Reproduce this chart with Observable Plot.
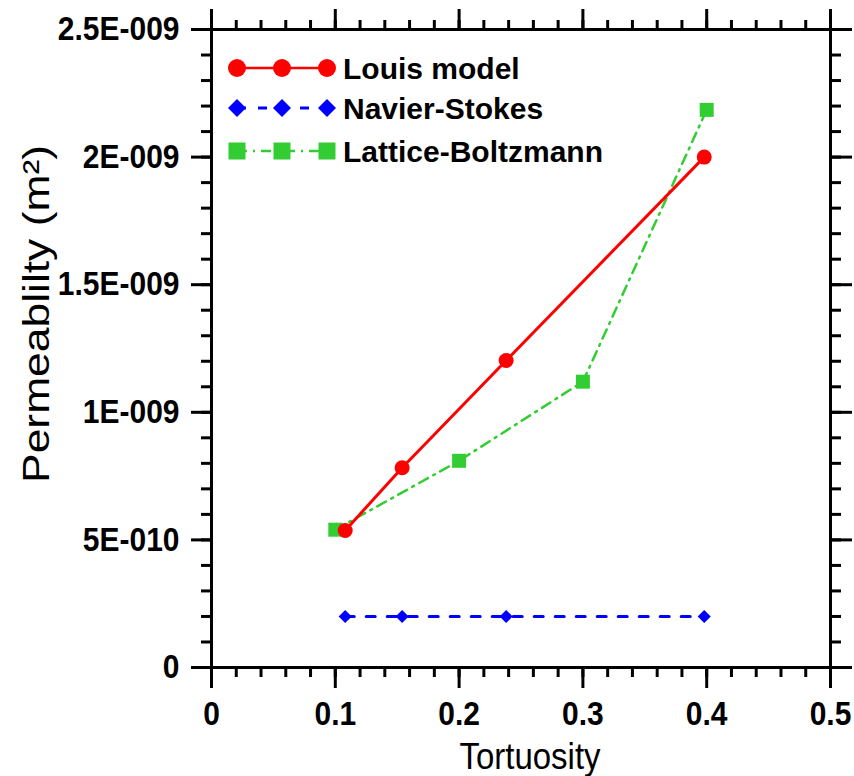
<!DOCTYPE html>
<html>
<head>
<meta charset="utf-8">
<script src="https://cdn.jsdelivr.net/npm/d3@7"></script>
<script src="https://cdn.jsdelivr.net/npm/@observablehq/plot@0.6"></script>
<style>
  html, body { margin: 0; padding: 0; background: #fff; }
  svg { font-family: "Liberation Sans", Arial, sans-serif; }
</style>
</head>
<body>
<div id="chart"></div>
<script>
// ---- data ----
const seriesNames = ["Louis model", "Navier-Stokes", "Lattice-Boltzmann"];
const louisX = [0.108, 0.154, 0.238, 0.398];
const louisY = [0.537e-9, 0.783e-9, 1.203e-9, 2.0e-9];
const nsX = [0.108, 0.154, 0.238, 0.398];
const nsY = [0.2e-9, 0.2e-9, 0.2e-9, 0.2e-9];
const lbX = [0.1, 0.2, 0.3, 0.4];
const lbY = [0.54e-9, 0.81e-9, 1.12e-9, 2.185e-9];

const xTicks = [0, 0.1, 0.2, 0.3, 0.4, 0.5];
const xTickLabels = ["0", "0.1", "0.2", "0.3", "0.4", "0.5"];
const yTicks = [0, 0.5e-9, 1e-9, 1.5e-9, 2e-9, 2.5e-9];
const yTickLabels = ["0", "5E-010", "1E-009", "1.5E-009", "2E-009", "2.5E-009"];
const xMinor = d3.range(0, 0.5001, 0.02);
const yMinor = d3.range(0, 2.5001e-9, 0.1e-9);
const xLabel = "Tortuosity";
const yLabel = "Permeablilty (m²)";

const louis = louisX.map((x, i) => ({x, y: louisY[i]}));
const ns = nsX.map((x, i) => ({x, y: nsY[i]}));
const lb = lbX.map((x, i) => ({x, y: lbY[i]}));

const RED = "#ff0000", BLUE = "#0000ff", GREEN = "#32cd32";
const FONT = 30;

const blank = () => "";
const chart = Plot.plot({
  width: 854,
  height: 776,
  marginLeft: 211,
  marginRight: 24,
  marginTop: 29,
  marginBottom: 109,
  style: {fontFamily: '"Liberation Sans", Arial, sans-serif', background: "white", overflow: "visible"},
  x: {domain: [0, 0.5]},
  y: {domain: [0, 2.5e-9]},
  marks: [
    // minor ticks
    Plot.axisX(xMinor, {anchor: "bottom", tickSize: 10, strokeWidth: 3, tickFormat: blank, label: null}),
    Plot.axisX(xMinor, {anchor: "top", tickSize: 10, strokeWidth: 3, tickFormat: blank, label: null}),
    Plot.axisY(yMinor, {anchor: "left", tickSize: 10, strokeWidth: 3, tickFormat: blank, label: null}),
    Plot.axisY(yMinor, {anchor: "right", tickSize: 10, strokeWidth: 3, tickFormat: blank, label: null}),
    // major ticks
    Plot.axisX(xTicks, {anchor: "bottom", tickSize: 21, tickPadding: 13, strokeWidth: 3,
      tickFormat: d => xTickLabels[xTicks.indexOf(d)], fontSize: FONT, fontWeight: "bold", fill: "black", label: null}),
    Plot.axisX(xTicks, {anchor: "top", tickSize: 21, strokeWidth: 3, tickFormat: blank, label: null}),
    Plot.axisY(yTicks, {anchor: "left", tickSize: 20, tickPadding: 12, strokeWidth: 3,
      tickFormat: d => yTickLabels[yTicks.indexOf(d)], fontSize: FONT, fontWeight: "bold", fill: "black", label: null}),
    Plot.axisY(yTicks, {anchor: "right", tickSize: 21, strokeWidth: 3, tickFormat: blank, label: null}),
    Plot.frame({stroke: "black", strokeWidth: 3}),
    // series lines
    Plot.line(ns, {x: "x", y: "y", stroke: BLUE, strokeWidth: 3, strokeDasharray: "9,12"}),
    Plot.line(lb, {x: "x", y: "y", stroke: GREEN, strokeWidth: 2.5, strokeDasharray: "10,6,2,6"}),
    Plot.line(louis, {x: "x", y: "y", stroke: RED, strokeWidth: 3}),
    // markers
    Plot.dot(ns, {x: "x", y: "y", symbol: "diamond2", r: 5.9, fill: BLUE, stroke: "none"}),
    Plot.dot(lb, {x: "x", y: "y", symbol: "square", r: 7.9, fill: GREEN, stroke: "none"}),
    Plot.dot(louis, {x: "x", y: "y", symbol: "circle", r: 7.5, fill: RED, stroke: "none"})
  ]
});
document.getElementById("chart").appendChild(chart);

const svg = d3.select(chart);
// slight vertical stretch of tick labels, as in the reference
svg.selectAll('g[aria-label$="tick label"] text').each(function () {
  const t = this.getAttribute("transform") || "";
  this.setAttribute("transform", t + " scale(1,1.12)");
});

// ---- axis titles & legend (layout) ----
svg.append("text")
  .attr("transform", "translate(530,769) scale(1,1.1)")
  .attr("text-anchor", "middle")
  .attr("font-size", 33)
  .attr("fill", "black")
  .text(xLabel);
svg.append("text")
  .attr("transform", "translate(49,314) rotate(-90) scale(1.2,1)")
  .attr("text-anchor", "middle")
  .attr("font-size", 37)
  .attr("fill", "black")
  .text(yLabel);

const legendRows = [
  {name: seriesNames[0], color: RED, dash: null, sym: d3.symbolCircle, w: 2.5, y: 68},
  {name: seriesNames[1], color: BLUE, dash: "9,12", sym: d3.symbolDiamond2, w: 3, y: 108},
  {name: seriesNames[2], color: GREEN, dash: "10,6,2,6", sym: d3.symbolSquare, w: 2.5, y: 151}
];
const lg = svg.append("g").attr("text-anchor", "start");
legendRows.forEach(r => {
  lg.append("line")
    .attr("x1", 237).attr("x2", 327).attr("y1", r.y).attr("y2", r.y)
    .attr("stroke", r.color).attr("stroke-width", r.w)
    .attr("stroke-dasharray", r.dash);
  [237, 282, 327].forEach(cx => {
    let size = r.sym === d3.symbolCircle ? Math.PI * 9 * 9 : (r.sym === d3.symbolSquare ? 17 * 17 : Math.pow(9 / 0.62625, 2));
    lg.append("path")
      .attr("d", d3.symbol(r.sym, size)())
      .attr("transform", `translate(${cx},${r.y})`)
      .attr("fill", r.color);
  });
  lg.append("text")
    .attr("x", 343).attr("y", r.y)
    .attr("dy", "0.36em")
    .attr("text-anchor", "start")
    .attr("font-size", 30)
    .attr("font-weight", "bold")
    .attr("fill", "black")
    .text(r.name);
});
</script>
</body>
</html>
